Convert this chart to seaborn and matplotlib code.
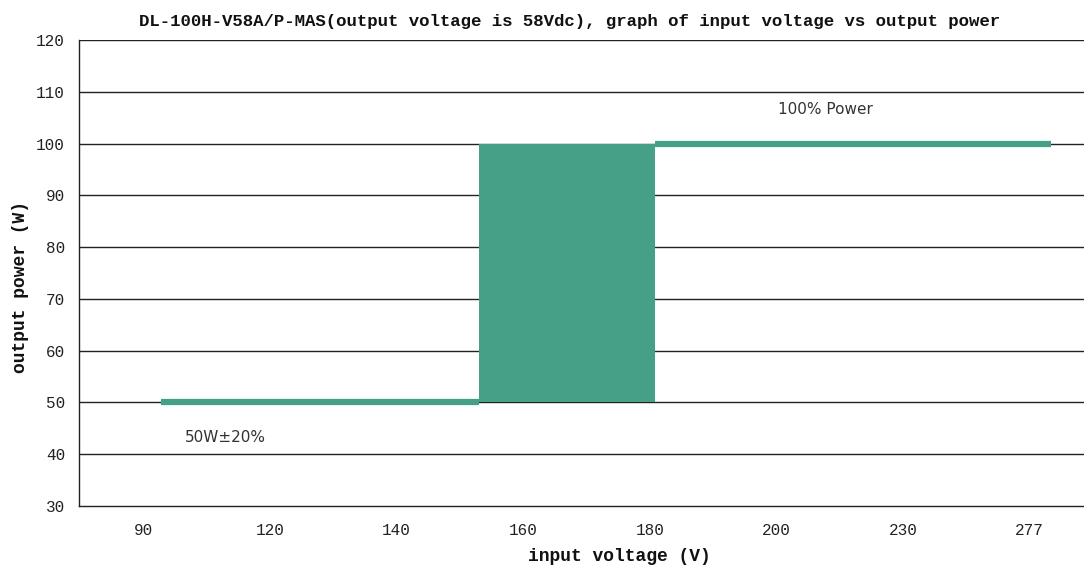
import matplotlib
matplotlib.use("Agg")
import matplotlib.pyplot as plt
import seaborn as sns
import pandas as pd

# categorical x axis (input voltage)
voltage_labels = ["90", "120", "140", "160", "180", "200", "230", "277"]
y_ticks = [30, 40, 50, 60, 70, 80, 90, 100, 110, 120]

# positions along the categorical axis (index units)
low_x = [0.14, 2.65]
low_y = [50, 50]
band_x = [2.65, 4.04]
band_low = [50, 50]
band_high = [100, 100]
high_x = [4.04, 7.17]
high_y = [100, 100]

teal = "#46A088"

sns.set_theme(style="white")
plt.rcParams["font.family"] = ["Liberation Mono", "DejaVu Sans"]

fig = plt.figure(figsize=(10.84, 5.70), dpi=100)
ax = fig.add_axes([0.0729, 0.1123, 0.9271, 0.8175])

low = pd.DataFrame({"x": low_x, "y": low_y})
high = pd.DataFrame({"x": high_x, "y": high_y})

ax.fill_between(band_x, band_low, band_high, color=teal, linewidth=0, zorder=3)
sns.lineplot(data=low, x="x", y="y", color=teal, linewidth=4.5, ax=ax, zorder=3,
             solid_capstyle="butt")
sns.lineplot(data=high, x="x", y="y", color=teal, linewidth=4.5, ax=ax, zorder=3,
             solid_capstyle="butt")

ax.set_xlim(-0.51, 7.43)
ax.set_ylim(30, 120)
ax.set_xticks(range(len(voltage_labels)))
ax.set_xticklabels(voltage_labels)
ax.set_yticks(y_ticks)
ax.tick_params(axis="both", length=0, labelsize=11.5, colors="#222222")
ax.tick_params(axis="x", pad=12)
ax.tick_params(axis="y", pad=10)

for yv in y_ticks[1:]:
    ax.axhline(yv, color="#222222", linewidth=1.0, zorder=1)

for side in ["top", "right"]:
    ax.spines[side].set_visible(False)
for side in ["left", "bottom"]:
    ax.spines[side].set_color("#222222")
    ax.spines[side].set_linewidth(1.0)

ax.set_xlabel("")
ax.set_ylabel("")

fig.text(0.525, 0.962, "DL-100H-V58A/P-MAS(output voltage is 58Vdc), graph of input voltage vs output power",
         ha="center", va="center", fontsize=12.5, fontweight="bold", color="#111111")
fig.text(0.571, 0.023, "input voltage (V)", ha="center", va="center",
         fontsize=13, fontweight="bold", color="#111111")
fig.text(0.019, 0.497, "output power (W)", ha="center", va="center", rotation=90,
         fontsize=13, fontweight="bold", color="#111111")

ax.text(5.39, 106.5, "100% Power", ha="center", va="center", fontsize=11,
        color="#333333", family=["DejaVu Sans"])
ax.text(0.65, 43.2, "50W±20%", ha="center", va="center", fontsize=11,
        color="#333333", family=["DejaVu Sans"])

fig.savefig("out.png", dpi=100)
plt.close(fig)
